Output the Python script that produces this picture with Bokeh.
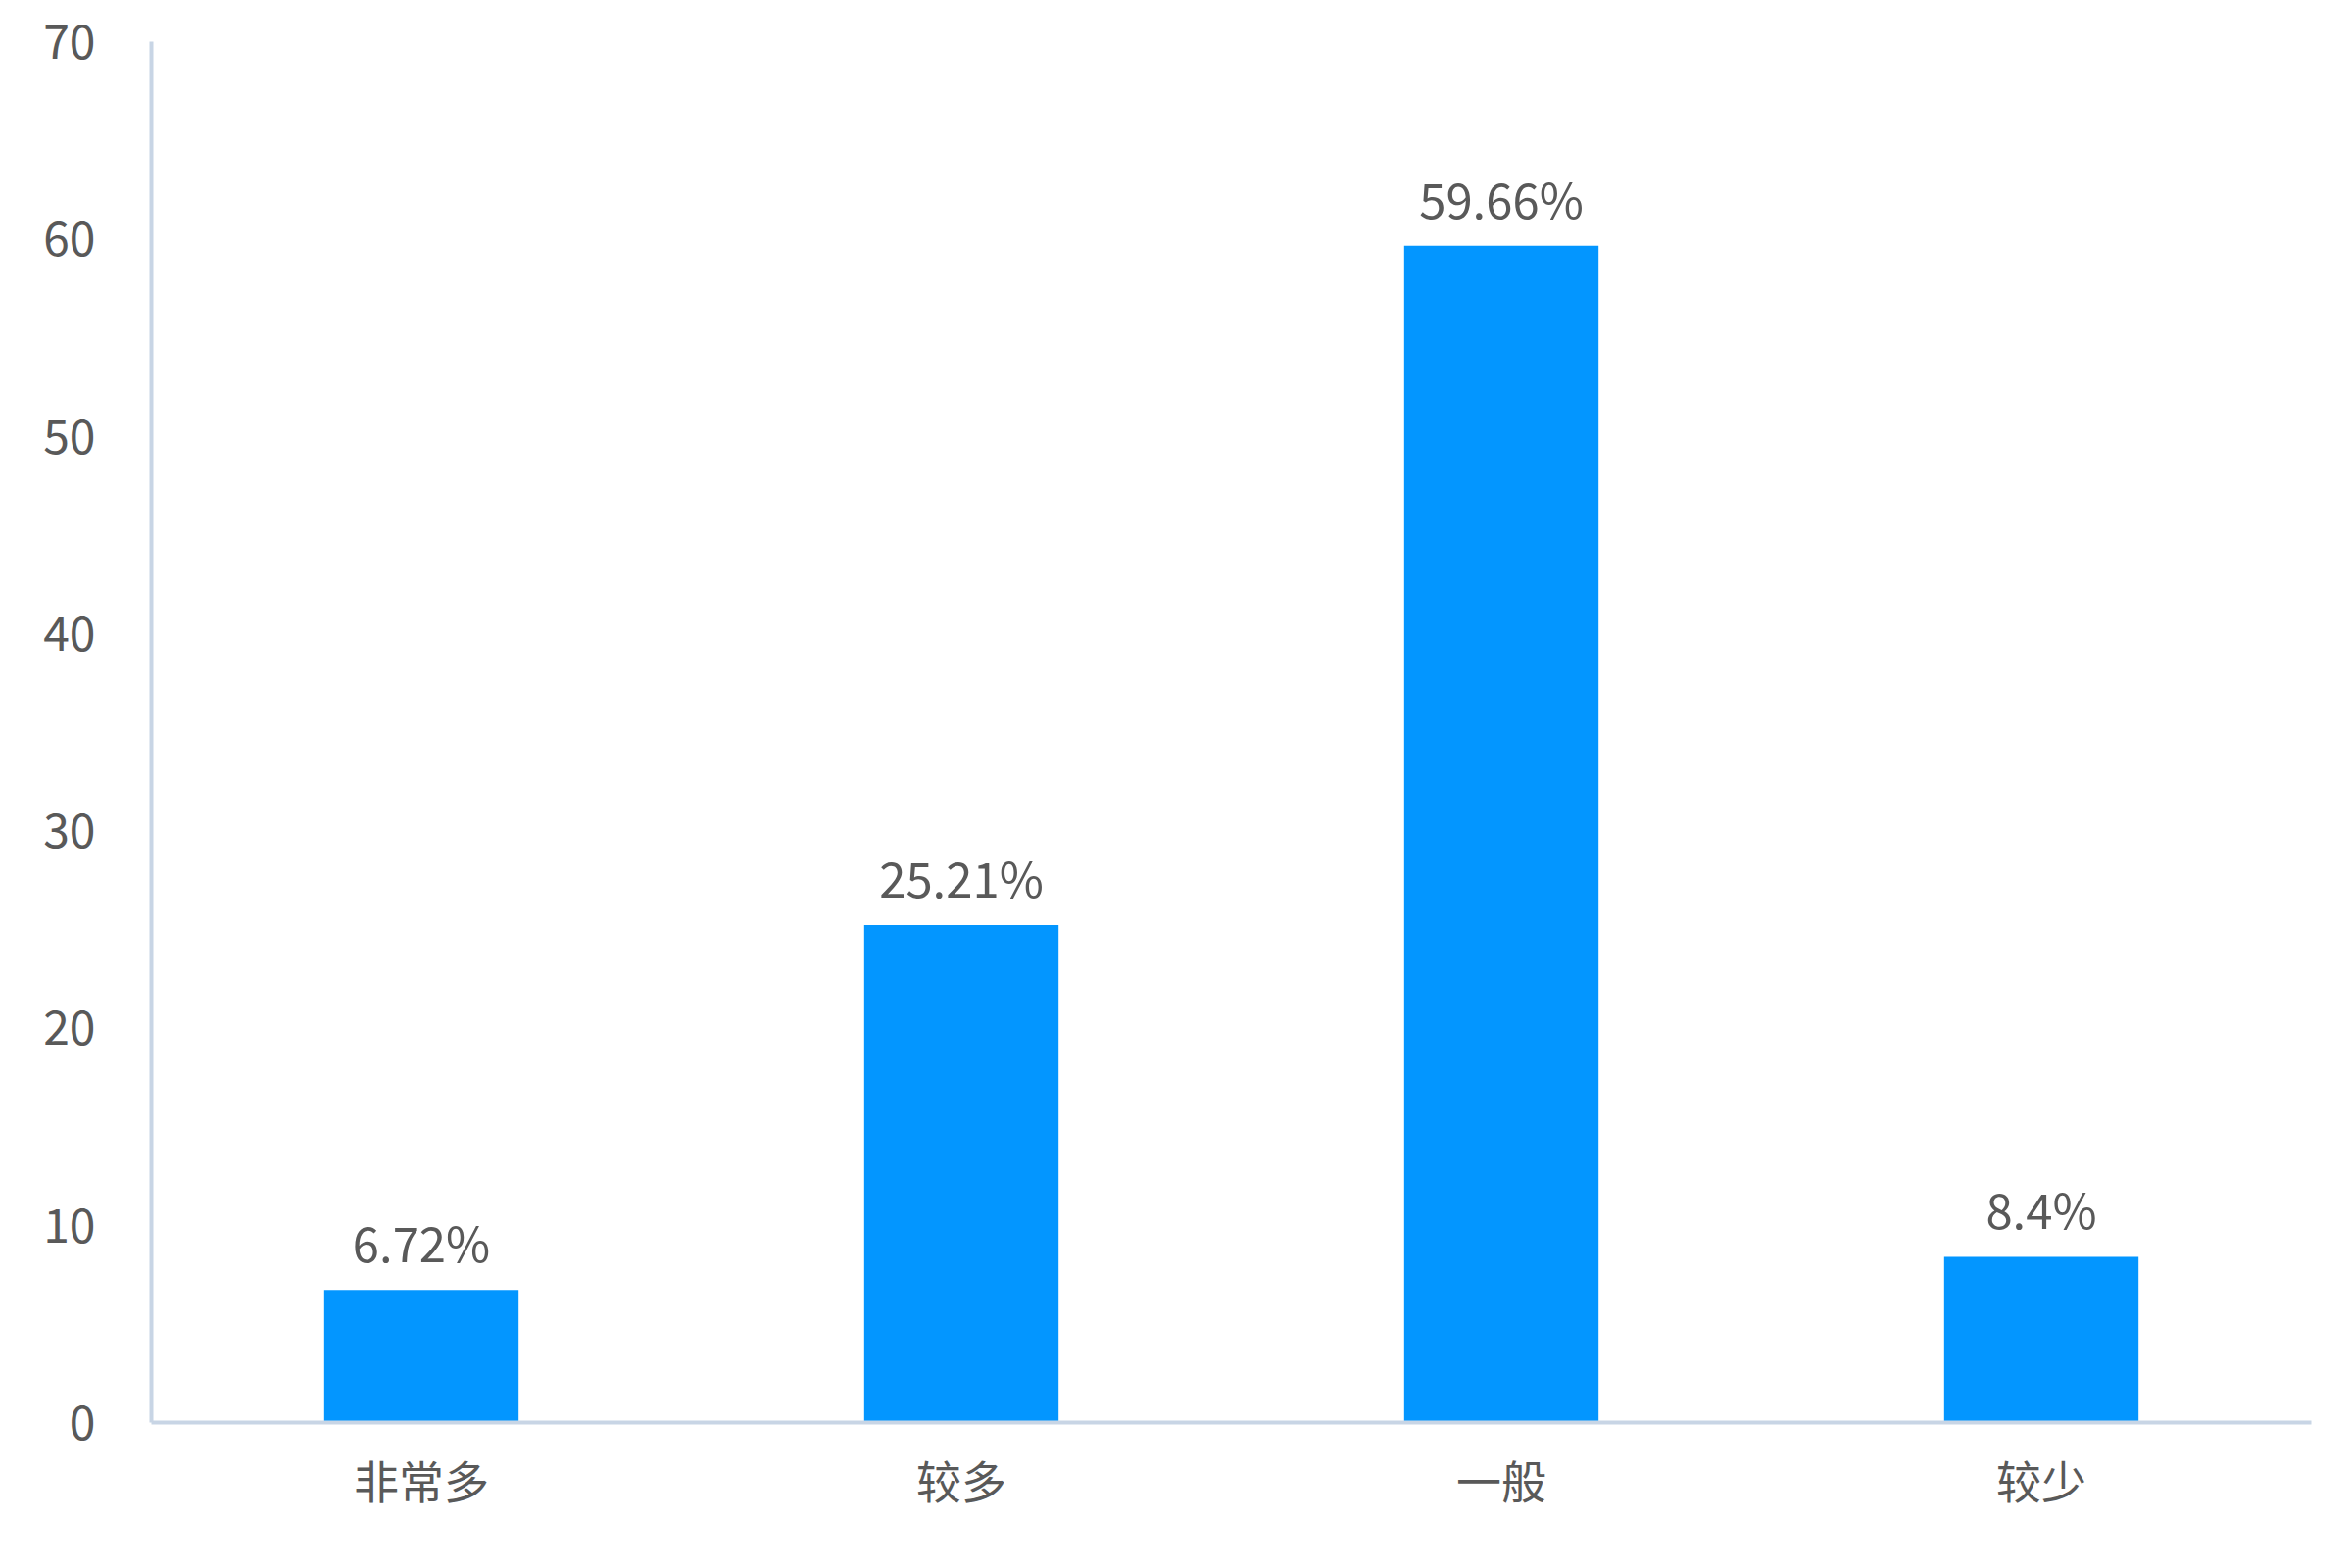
from bokeh.plotting import figure
from bokeh.models import ColumnDataSource, FixedTicker, FactorRange, Range1d
from bokeh.core.properties import value
from bokeh.embed import file_html
from bokeh.resources import INLINE

categories = ["非常多", "较多", "一般", "较少"]
values = [6.72, 25.21, 59.66, 8.4]
labels = ["6.72%", "25.21%", "59.66%", "8.4%"]
y_ticks = [0, 10, 20, 30, 40, 50, 60, 70]

FONT = "Noto Sans CJK SC"
TEXT_COLOR = "#595959"
AXIS_COLOR = "#c8d5e5"
BAR_COLOR = "#0396ff"

src = ColumnDataSource(data=dict(cat=categories, val=values, lab=labels))

p = figure(
    x_range=FactorRange(*categories, range_padding=0),
    y_range=Range1d(0, 70),
    width=2384, height=1584,
    output_backend="svg", toolbar_location=None,
    min_border_left=154, min_border_right=26,
    min_border_top=42, min_border_bottom=133,
)
p.outline_line_color = None
p.xgrid.grid_line_color = None
p.ygrid.grid_line_color = None
p.background_fill_color = "white"
p.border_fill_color = "white"

p.vbar(x="cat", top="val", width=0.36, source=src, color=BAR_COLOR, line_color=None)
p.text(x="cat", y="val", text="lab", source=src, text_align="center",
       text_baseline="bottom", y_offset=-14, text_font=value(FONT),
       text_font_size="49px", text_color=TEXT_COLOR)

p.yaxis.ticker = FixedTicker(ticks=y_ticks)
for ax in (p.xaxis, p.yaxis):
    ax.axis_line_color = AXIS_COLOR
    ax.axis_line_width = 4
    ax.major_tick_line_color = None
    ax.minor_tick_line_color = None
    ax.major_label_text_font = FONT
    ax.major_label_text_color = TEXT_COLOR
p.yaxis.major_label_text_font_size = "48px"
p.xaxis.major_label_text_font_size = "46px"
p.yaxis.major_label_standoff = 51
p.xaxis.major_label_standoff = 18

open("out.html", "w").write(file_html(p, INLINE))
